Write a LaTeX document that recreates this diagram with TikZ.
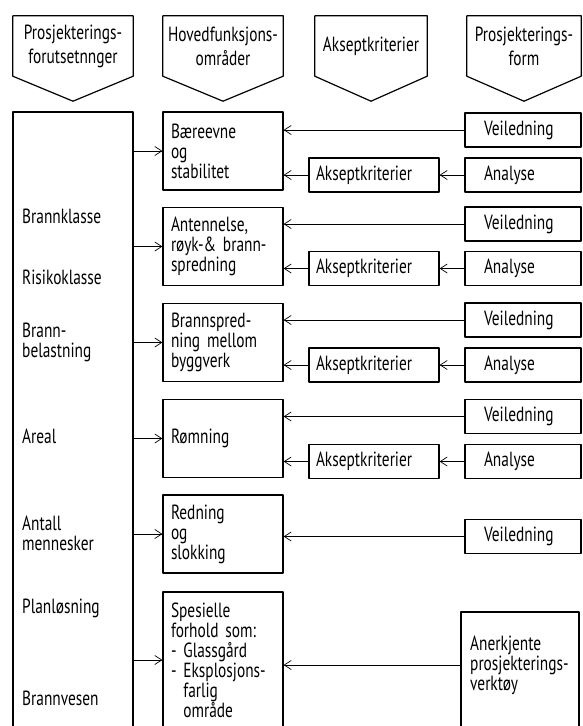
\documentclass[tikz,border=0pt]{standalone}
\usepackage{fontspec}
\setmainfont[FakeStretch=0.75]{PT Sans}
\usetikzlibrary{arrows.meta}

\begin{document}
\begin{tikzpicture}
		[x=1pt,y=-1pt,line cap=round,line join=round,
		font=\fontsize{20.5}{20}\selectfont,
		%Styles
		box/.style={draw,line width=1.2pt,minimum height=34,inner ysep=0pt,align=left},
		mid/.style={box,minimum width=120,minimum height=78,text width=104,inner xsep=8},
		way/.style={box,minimum width=116,text width=78,inner xsep=19},
		crit/.style={box,minimum width=130,text width=116,inner xsep=7},
		head/.style={minimum width=120,minimum height=60,align=center,inner sep=0pt},
		label text/.style={anchor=west,align=left,inner sep=0pt},
		arr/.style={line width=0.7pt,-{Straight Barb[length=7pt,width=9pt]}}
		]
		
		\clip (0,0) rectangle (583,726);
		
		%Headers
		\node[head] (h1) at (73,46) {Prosjekterings-\\[4pt]forutsetnnger};
		\node[head] (h2) at (223,46) {Hovedfunksjons-\\[4pt]områder};
		\node[head,minimum width=112] (h3) at (371,46) {Akseptkriterier};
		\node[head,minimum width=114] (h4) at (524,46) {Prosjekterings-\\[4pt]form};
		\draw[line width=1.2pt] (h1.north west) -- (h1.north east) -- (h1.south east) -- ([yshift=-25pt]h1.south) -- (h1.south west) -- cycle;
		\draw[line width=1.2pt] (h2.north west) -- (h2.north east) -- (h2.south east) -- ([yshift=-25pt]h2.south) -- (h2.south west) -- cycle;
		\draw[line width=1.2pt] (h3.north west) -- (h3.north east) -- (h3.south east) -- ([yshift=-25pt]h3.south) -- (h3.south west) -- cycle;
		\draw[line width=1.2pt] (h4.north west) -- (h4.north east) -- (h4.south east) -- ([yshift=-25pt]h4.south) -- (h4.south west) -- cycle;
		
		%Left column
		\node[box,minimum width=120,minimum height=640] (pf) at (73,432) {};
		\node[label text] (l1) at (22,216) {Brannklasse};
		\node[label text] (l2) at (22,277) {Risikoklasse};
		\node[label text] (l3) at (22,342) {Brann-\\belastning};
		\node[label text] (l4) at (22,436) {Areal};
		\node[label text] (l5) at (22,533) {Antall\\mennesker};
		\node[label text] (l6) at (22,608) {Planløsning};
		\node[label text] (l7) at (22,698) {Brannvesen};
		
		%Main areas
		\node[mid] (b1) at (223,151) {Bæreevne\\og\\stabilitet};
		\node[mid] (b2) at (223,246.5) {Antennelse,\\røyk-\& brann-\\spredning};
		\node[mid] (b3) at (223,342.5) {Brannspred-\\ning mellom\\byggverk};
		\node[mid] (b4) at (223,438.5) {Rømning};
		\node[mid] (b5) at (223,534) {Redning\\og\\slokking};
		\node[mid,minimum height=136] (b6) at (223,660) {Spesielle\\forhold som:\\- Glassgård\\- Eksplosjons-\\\phantom{- }farlig\\\phantom{- }område};
		
		%Criteria and design form
		\node[way] (v1) at (523,130) {Veiledning};
		\node[way] (a1) at (523,175) {Analyse};
		\node[crit] (k1) at (374,175) {Akseptkriterier};
		\node[way] (v2) at (523,224) {Veiledning};
		\node[way] (a2) at (523,268.5) {Analyse};
		\node[crit] (k2) at (374,268.5) {Akseptkriterier};
		\node[way] (v3) at (523,320) {Veiledning};
		\node[way] (a3) at (523,365) {Analyse};
		\node[crit] (k3) at (374,365) {Akseptkriterier};
		\node[way] (v4) at (523,416.5) {Veiledning};
		\node[way] (a4) at (523,461.5) {Analyse};
		\node[crit] (k4) at (374,461.5) {Akseptkriterier};
		\node[way] (v5) at (523,536.5) {Veiledning};
		\node[box,minimum width=118,minimum height=140] (an) at (520,682) {};
		\node[label text] (antxt) at (470,665) {Anerkjente\\prosjekterings-\\verktøy};
		
		\path[arr]
			(b1.west -| pf.east) edge (b1.west)
			(b2.west -| pf.east) edge (b2.west)
			(b3.west -| pf.east) edge (b3.west)
			(b4.west -| pf.east) edge (b4.west)
			(b5.west -| pf.east) edge (b5.west)
			(b6.west -| pf.east) edge (b6.west)
			(v1.west) edge (v1.west -| b1.east)
			(a1.west) edge (k1.east)
			(k1.west) edge (k1.west -| b1.east)
			(v2.west) edge (v2.west -| b2.east)
			(a2.west) edge (k2.east)
			(k2.west) edge (k2.west -| b2.east)
			(v3.west) edge (v3.west -| b3.east)
			(a3.west) edge (k3.east)
			(k3.west) edge (k3.west -| b3.east)
			(v4.west) edge (v4.west -| b4.east)
			(a4.west) edge (k4.east)
			(k4.west) edge (k4.west -| b4.east)
			(v5.west) edge (v5.west -| b5.east)
			(antxt.west -| an.west) edge (antxt.west -| b6.east);
	\end{tikzpicture}
\end{document}
